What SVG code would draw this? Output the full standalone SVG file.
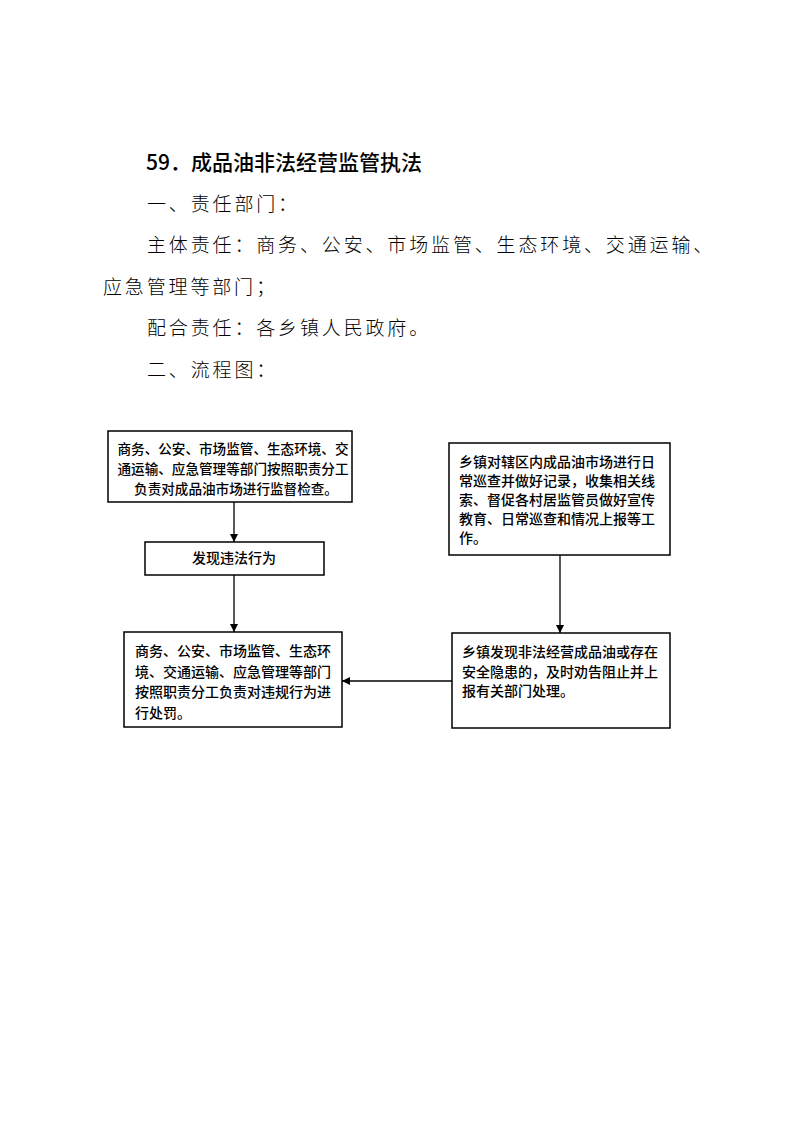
<svg xmlns="http://www.w3.org/2000/svg" width="793" height="1122" viewBox="0 0 793 1122">
<style>
.title{font-family:"Noto Sans CJK SC","Noto Sans",sans-serif;font-size:21px;font-weight:500;fill:#000}
.body{font-family:"Noto Sans CJK SC",sans-serif;font-size:19px;font-weight:300;letter-spacing:2.85px;fill:#000}
.box{fill:#fff;stroke:#000;stroke-width:1.5}
.bt{font-family:"Noto Sans CJK SC",sans-serif;font-size:14px;font-weight:500;fill:#000}
.bc{text-anchor:middle}
.conn{stroke:#000;stroke-width:1.3;fill:none;marker-end:url(#ah)}
</style>
<defs>
<marker id="ah" viewBox="0 0 10 10" refX="10" refY="5" markerWidth="8" markerHeight="8" markerUnits="userSpaceOnUse" orient="auto">
<path d="M0,0 L10,5 L0,10 Z" fill="#000"/>
</marker>
</defs>
<rect width="793" height="1122" fill="#fff"/>
<g id="header">
<text class="title" x="146" y="170">59．成品油非法经营监管执法</text>
<text class="body" x="147" y="211">一、责任部门：</text>
<text class="body" x="147" y="252">主体责任：商务、公安、市场监管、生态环境、交通运输、</text>
<text class="body" x="103" y="294">应急管理等部门；</text>
<text class="body" x="147" y="335">配合责任：各乡镇人民政府。</text>
<text class="body" x="147" y="377">二、流程图：</text>
</g>
<g id="connectors">
<line class="conn" x1="234" y1="502" x2="234" y2="542"/>
<line class="conn" x1="234" y1="575" x2="234" y2="632"/>
<line class="conn" x1="560" y1="555" x2="560" y2="633"/>
<line class="conn" x1="452" y1="681" x2="342" y2="681"/>
</g>
<g id="node1">
<rect class="box" x="108" y="431" width="244" height="71"/>
<text class="bt bc" style="font-size:13.6px" x="233" y="454">商务、公安、市场监管、生态环境、交</text>
<text class="bt bc" style="font-size:13.6px" x="233" y="474">通运输、应急管理等部门按照职责分工</text>
<text class="bt bc" style="font-size:13.6px" x="236" y="494">负责对成品油市场进行监督检查。</text>
</g>
<g id="node2">
<rect class="box" x="145" y="542" width="179" height="33"/>
<text class="bt bc" x="234" y="563">发现违法行为</text>
</g>
<g id="node3">
<rect class="box" x="449" y="443" width="221" height="112"/>
<text class="bt" x="459" y="467">乡镇对辖区内成品油市场进行日</text>
<text class="bt" x="459" y="486">常巡查并做好记录，收集相关线</text>
<text class="bt" x="459" y="505">索、督促各村居监管员做好宣传</text>
<text class="bt" x="459" y="524">教育、日常巡查和情况上报等工</text>
<text class="bt" x="459" y="543">作。</text>
</g>
<g id="node4">
<rect class="box" x="124" y="632" width="218" height="95"/>
<text class="bt" x="135" y="656">商务、公安、市场监管、生态环</text>
<text class="bt" x="135" y="677">境、交通运输、应急管理等部门</text>
<text class="bt" x="135" y="697">按照职责分工负责对违规行为进</text>
<text class="bt" x="135" y="718">行处罚。</text>
</g>
<g id="node5">
<rect class="box" x="452" y="633" width="218" height="95"/>
<text class="bt" x="462" y="657">乡镇发现非法经营成品油或存在</text>
<text class="bt" x="462" y="677">安全隐患的，及时劝告阻止并上</text>
<text class="bt" x="462" y="696">报有关部门处理。</text>
</g>
</svg>
